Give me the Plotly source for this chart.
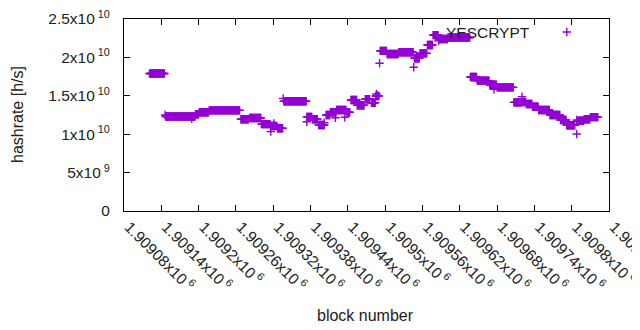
import plotly.graph_objects as go

# constant-hashrate segments (block ranges, value in units of 1e10 h/s)
seg_start = [1909121, 1909147, 1909195, 1909201, 1909217, 1909268, 1909282, 1909301, 1909316, 1909327,
             1909337, 1909374, 1909383, 1909393, 1909405, 1909412, 1909422, 1909438, 1909445, 1909455,
             1909468, 1909478, 1909485, 1909492, 1909503, 1909522, 1909547, 1909556, 1909568, 1909577,
             1909587, 1909601, 1909637, 1909648, 1909668, 1909680, 1909707, 1909721, 1909727, 1909737,
             1909747, 1909765, 1909782, 1909792, 1909810, 1909820, 1909830]
seg_end = [1909145, 1909194, 1909200, 1909216, 1909266, 1909280, 1909300, 1909315, 1909325, 1909335,
           1909373, 1909382, 1909391, 1909402, 1909411, 1909421, 1909437, 1909443, 1909454, 1909466,
           1909475, 1909484, 1909490, 1909502, 1909521, 1909545, 1909555, 1909567, 1909576, 1909585,
           1909600, 1909636, 1909647, 1909667, 1909679, 1909706, 1909719, 1909726, 1909736, 1909746,
           1909764, 1909781, 1909791, 1909805, 1909819, 1909829, 1909842]
seg_value = [1.79, 1.23, 1.26, 1.285, 1.31, 1.194, 1.211, 1.131, 1.107, 1.077,
             1.43, 1.225, 1.194, 1.12, 1.25, 1.285, 1.315, 1.285, 1.445, 1.376,
             1.456, 1.41, 1.497, 2.085, 2.044, 2.068, 1.988, 2.053, 2.161, 2.29,
             2.24, 2.26, 1.745, 1.697, 1.643, 1.61, 1.415, 1.42, 1.393, 1.358,
             1.315, 1.25, 1.185, 1.116, 1.176, 1.194, 1.222]

# isolated points
out_block = [1909146, 1909189, 1909316, 1909321, 1909336, 1909374, 1909402, 1909420, 1909435,
             1909486, 1909491, 1909546, 1909586, 1909675, 1909720, 1909808, 1909808]
out_value = [1.25, 1.2, 1.033, 1.14, 1.467, 1.163, 1.15, 1.215, 1.22,
             1.523, 1.923, 1.871, 2.217, 1.585, 1.489, 1.003, 1.185]

x_tickvals = [1909080, 1909140, 1909200, 1909260, 1909320, 1909380, 1909440,
              1909500, 1909560, 1909620, 1909680, 1909740, 1909800, 1909860]
x_ticklabels = ["1.90908", "1.90914", "1.9092", "1.90926", "1.90932", "1.90938", "1.90944",
                "1.9095", "1.90956", "1.90962", "1.90968", "1.90974", "1.9098", "1.90986"]
y_tickvals = [0, 5e9, 1e10, 1.5e10, 2e10, 2.5e10]
y_ticklabels = ["0", "5x10<sup> 9</sup>", "1x10<sup> 10</sup>", "1.5x10<sup> 10</sup>",
                "2x10<sup> 10</sup>", "2.5x10<sup> 10</sup>"]

COLOR = "#9400D3"
FONT = "Liberation Sans, Arial, sans-serif"
TXT = "#222"

xs, ys = [], []
for s, e, v in zip(seg_start, seg_end, seg_value):
    for b in range(s, e + 1):
        xs.append(b)
        ys.append(v * 1e10)
for b, v in zip(out_block, out_value):
    xs.append(b)
    ys.append(v * 1e10)

fig = go.Figure()
fig.add_trace(go.Scatter(
    x=xs, y=ys, mode="markers", showlegend=False, cliponaxis=False,
    marker=dict(symbol="cross-thin", size=6, color=COLOR, line=dict(color=COLOR, width=1.4)),
))
# key sample
fig.add_trace(go.Scatter(
    x=[0.913], y=[0.932], xaxis="x2", yaxis="y2", mode="markers", showlegend=False,
    marker=dict(symbol="cross-thin", size=6, color=COLOR, line=dict(color=COLOR, width=1.4)),
))

fig.update_layout(
    width=640, height=330,
    margin=dict(l=116, r=39, t=11, b=127),
    plot_bgcolor="white", paper_bgcolor="white",
    font=dict(family=FONT, size=15, color=TXT),
    xaxis=dict(
        range=[1909080, 1909860], tickvals=x_tickvals,
        ticktext=[t + "x10<sup> 6</sup>" for t in x_ticklabels],
        tickangle=45, ticks="inside", ticklen=6, tickcolor="black",
        tickfont=dict(size=15.5), ticklabeloverflow="allow", ticklabelshift=5,
        showline=True, linecolor="black", linewidth=1, mirror="ticks",
        showgrid=False, zeroline=False, automargin=False,
    ),
    yaxis=dict(
        range=[0, 2.5e10], tickvals=y_tickvals, ticktext=y_ticklabels,
        ticks="inside", ticklen=6, tickcolor="black", ticklabelstandoff=10,
        tickfont=dict(size=15.5), ticklabeloverflow="allow",
        showline=True, linecolor="black", linewidth=1, mirror="ticks",
        showgrid=False, zeroline=False, automargin=False,
    ),
    xaxis2=dict(range=[0, 1], overlaying="x", visible=False),
    yaxis2=dict(range=[0, 1], overlaying="y", visible=False),
    annotations=[
        dict(text="YESCRYPT", x=0.841, y=0.932, xref="paper", yref="paper",
             xanchor="right", yanchor="middle", showarrow=False,
             font=dict(size=15.5, color=TXT)),
        dict(text="block number", x=0.497, y=-0.5417, xref="paper", yref="paper",
             xanchor="center", yanchor="middle", showarrow=False,
             font=dict(size=16, color=TXT)),
        dict(text="hashrate [h/s]", x=-0.2206, y=0.5, xref="paper", yref="paper",
             xanchor="center", yanchor="middle", showarrow=False, textangle=-90,
             font=dict(size=16, color=TXT)),
    ],
)

fig.write_html("out.html")
